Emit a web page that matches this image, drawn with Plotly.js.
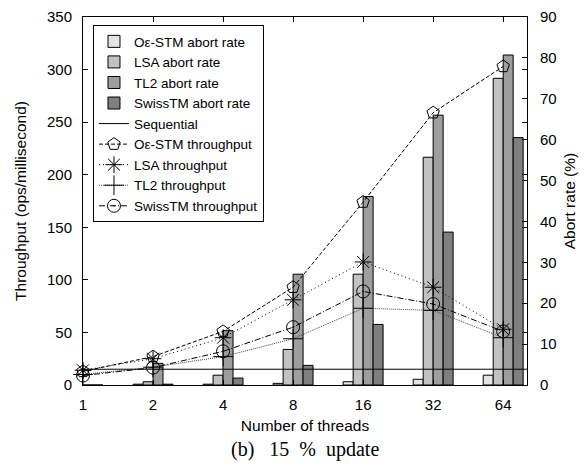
<!DOCTYPE html>
<html>
<head>
<meta charset="utf-8">
<script src="https://cdn.plot.ly/plotly-3.0.1.min.js"></script>
<style>html,body{margin:0;padding:0;background:#fff;}#chart{width:588px;height:473px;}</style>
</head>
<body>
<div id="chart"></div>
<script>
// ---- data ----
const threads = ['1', '2', '4', '8', '16', '32', '64'];
// abort rates (%)
const abortOe = [0, 0.2, 0.2, 0.4, 0.8, 1.4, 2.4];
const abortLSA = [0, 0.8, 2.4, 8.7, 27.1, 55.7, 75.0];
const abortTL2 = [0, 5.3, 13.3, 27.1, 46.1, 66.0, 80.7];
const abortSwiss = [0, 0.2, 1.7, 4.8, 14.8, 37.4, 60.5];
// throughput (ops/millisecond)
const tpOe = [13, 27, 51, 93, 174, 259, 303];
const tpLSA = [14, 25, 45, 81, 117, 93, 53];
const tpTL2 = [10, 17, 27, 44, 73, 71, 45];
const tpSwiss = [9, 16.5, 32, 55, 89, 77, 51];
const sequential = 15;

const xIdx = threads.map((_, i) => i);
const FONT = 'Liberation Sans, Arial, Helvetica, sans-serif';

function barTrace(name, vals, color) {
  return {
    type: 'bar', name: name, x: xIdx, y: vals, xaxis: 'x', yaxis: 'y',
    marker: {color: color, line: {color: '#000', width: 1}},
    hoverinfo: 'skip'
  };
}
function lineTrace(name, vals, symbol, size, dash, color) {
  return {
    type: 'scatter', mode: 'lines+markers', name: name, x: xIdx, y: vals,
    xaxis: 'x', yaxis: 'y2', cliponaxis: false,
    line: {color: color || '#000', width: 1, dash: dash},
    marker: {symbol: symbol, size: size, color: '#000', line: {color: '#000', width: 1}},
    hoverinfo: 'skip'
  };
}

const data = [
  barTrace('O\u03b5-STM abort rate', abortOe, '#e4e4e4'),
  barTrace('LSA abort rate', abortLSA, '#c2c2c2'),
  barTrace('TL2 abort rate', abortTL2, '#9e9e9e'),
  barTrace('SwissTM abort rate', abortSwiss, '#7f7f7f'),
  {type: 'scatter', mode: 'lines', name: 'Sequential', x: [null], y: [null],
   xaxis: 'x', yaxis: 'y2', line: {color: '#000', width: 1}},
  lineTrace('O\u03b5-STM throughput', tpOe, 'pentagon-open', 13, '4px,2px'),
  lineTrace('LSA throughput', tpLSA, 'asterisk-open', 14, '1px,3px'),
  lineTrace('TL2 throughput', tpTL2, 'cross-thin-open', 14, '1px,1px', '#444'),
  lineTrace('SwissTM throughput', tpSwiss, 'circle-open-dot', 13, '6px,2px,1px,2px')
];

const axisCommon = {
  showline: true, linecolor: '#000', linewidth: 1,
  ticks: 'inside', ticklen: 5, tickcolor: '#000', tickwidth: 1,
  showgrid: false, zeroline: false,
  tickfont: {family: FONT, size: 15, color: '#000'}
};

const layout = {
  width: 588, height: 473,
  margin: {l: 83, r: 61, t: 17, b: 88},
  paper_bgcolor: '#fff', plot_bgcolor: '#fff',
  font: {family: FONT, size: 15, color: '#000'},
  barmode: 'group', bargap: 0.43, bargroupgap: 0,
  showlegend: true,
  legend: {
    x: 0.0225, y: 0.978, xanchor: 'left', yanchor: 'top',
    bgcolor: '#fff', bordercolor: '#000', borderwidth: 1,
    font: {family: FONT, size: 13.5, color: '#000'},
    tracegroupgap: 0, traceorder: 'normal'
  },
  xaxis: Object.assign({}, axisCommon, {
    range: [0, 6.34], tickvals: xIdx, ticktext: threads, mirror: 'ticks',
    ticklabelstandoff: 6,
    title: {text: 'Number of threads', font: {family: FONT, size: 15.5}, standoff: 8}
  }),
  yaxis: Object.assign({}, axisCommon, {
    side: 'right', range: [0, 90], dtick: 10, anchor: 'x',
    ticklabelstandoff: 9,
    title: {text: 'Abort rate (%)', font: {family: FONT, size: 15.5}, standoff: 8}
  }),
  yaxis2: Object.assign({}, axisCommon, {
    overlaying: 'y', side: 'left', range: [0, 350], dtick: 50, anchor: 'x',
    mirror: 'ticks', ticklabelstandoff: 7,
    title: {text: 'Throughput (ops/millisecond)', font: {family: FONT, size: 15.5}, standoff: 16}
  }),
  shapes: [{
    type: 'line', xref: 'paper', x0: 0, x1: 1, yref: 'y2', y0: sequential, y1: sequential,
    line: {color: '#000', width: 1}, layer: 'above'
  }],
  annotations: [{
    text: '(b)\u00a0\u00a0\u00a015\u00a0\u00a0%\u00a0\u00a0update', xref: 'paper', yref: 'paper', x: 0.5, y: -0.1766,
    xanchor: 'center', yanchor: 'middle', showarrow: false,
    font: {family: 'Liberation Serif, Times New Roman, serif', size: 20, color: '#000'}
  }]
};

Plotly.newPlot('chart', data, layout, {displayModeBar: false, staticPlot: true});
</script>
</body>
</html>
